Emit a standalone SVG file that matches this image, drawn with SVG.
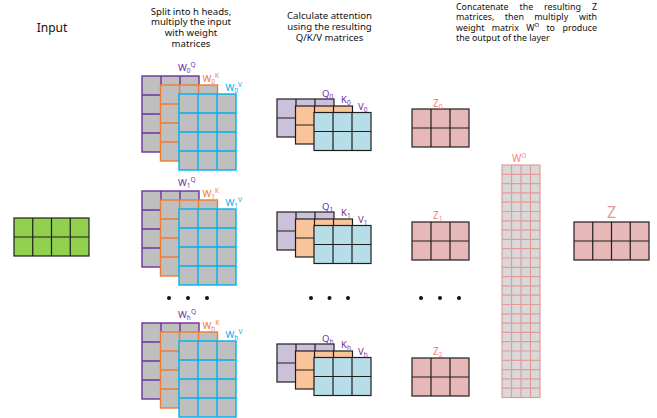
<svg xmlns="http://www.w3.org/2000/svg" xmlns:xlink="http://www.w3.org/1999/xlink" width="657" height="418" viewBox="0 0 657 418">
<style>
text{font-family:"Noto Sans","Open Sans",sans-serif;}
.hd{font-size:9.6px;fill:#111;}
.cc{font-size:8.9px;fill:#111;}
.in{font-size:12px;fill:#111;}
.wl{font-size:9.5px;}
.sb{font-size:6.5px;}
.pq{fill:#7030a0;}
.po{fill:#ed7d31;}
.pb{fill:#00b0f0;}
.pz{fill:#ff7c80;font-size:10px;}
.mw{stroke-width:1.4;}
.mk{stroke:#1e1e1e;stroke-width:1.2;}
.dot{fill:#111;}
</style>
<defs>
<g id="g34"><rect width="57" height="76"/><path d="M19 0V76M38 0V76M0 19H57M0 38H57M0 57H57"/></g>
<g id="g32"><rect width="57" height="38"/><path d="M19 0V38M38 0V38M0 19H57"/></g>
<g id="g42"><rect width="75" height="38"/><path d="M18.75 0V38M37.5 0V38M56.25 0V38M0 19H75"/></g>
</defs>

<g id="headings">
<text class="in" x="52" y="32" text-anchor="middle">Input</text>
<text class="hd" text-anchor="middle"><tspan x="191" y="14.7">Split into h heads,</tspan><tspan x="191" y="25.3">multiply the input</tspan><tspan x="191" y="35.9">with weight</tspan><tspan x="191" y="46.5">matrices</tspan></text>
<text class="hd" text-anchor="middle"><tspan x="329.5" y="19.3">Calculate attention</tspan><tspan x="329.5" y="29.9">using the resulting</tspan><tspan x="329.5" y="40.5">Q/K/V matrices</tspan></text>
<text class="cc"><tspan x="456" y="9.5" word-spacing="8.6">Concatenate the resulting</tspan><tspan x="597" y="9.5" text-anchor="end">Z</tspan><tspan x="456" y="20" word-spacing="8.1">matrices, then multiply</tspan><tspan x="597" y="20" text-anchor="end">with</tspan><tspan x="456" y="30.5" word-spacing="5">weight matrix W</tspan><tspan y="27" font-size="6">O</tspan><tspan y="30.5" word-spacing="5"> to</tspan><tspan x="597" y="30.5" text-anchor="end">produce</tspan><tspan x="456" y="41">the output of the layer</tspan></text>
</g>

<g id="input">
<use xlink:href="#g42" x="14" y="218" fill="#92d050" class="mk"/>
</g>

<g id="weights-0">
<use xlink:href="#g34" x="142" y="76" fill="#bfbfbf" stroke="#7030a0" class="mw"/>
<use xlink:href="#g34" x="160.5" y="85" fill="#bfbfbf" stroke="#ed7d31" class="mw"/>
<use xlink:href="#g34" x="179" y="94" fill="#bfbfbf" stroke="#00b0f0" class="mw"/>
<text class="wl pq" x="178" y="71">W<tspan class="sb" dy="2">0</tspan><tspan class="sb" dy="-6">Q</tspan></text>
<text class="wl po" x="202.5" y="81.5">W<tspan class="sb" dy="2">0</tspan><tspan class="sb" dy="-6">K</tspan></text>
<text class="wl pb" x="225.5" y="91">W<tspan class="sb" dy="2">0</tspan><tspan class="sb" dy="-6">V</tspan></text>
</g>
<g id="weights-1">
<use xlink:href="#g34" x="142" y="191" fill="#bfbfbf" stroke="#7030a0" class="mw"/>
<use xlink:href="#g34" x="160.5" y="200" fill="#bfbfbf" stroke="#ed7d31" class="mw"/>
<use xlink:href="#g34" x="179" y="209" fill="#bfbfbf" stroke="#00b0f0" class="mw"/>
<text class="wl pq" x="178" y="186">W<tspan class="sb" dy="2">1</tspan><tspan class="sb" dy="-6">Q</tspan></text>
<text class="wl po" x="202.5" y="196.5">W<tspan class="sb" dy="2">1</tspan><tspan class="sb" dy="-6">K</tspan></text>
<text class="wl pb" x="225.5" y="206">W<tspan class="sb" dy="2">1</tspan><tspan class="sb" dy="-6">V</tspan></text>
</g>
<g id="weights-h">
<use xlink:href="#g34" x="142" y="323" fill="#bfbfbf" stroke="#7030a0" class="mw"/>
<use xlink:href="#g34" x="160.5" y="332" fill="#bfbfbf" stroke="#ed7d31" class="mw"/>
<use xlink:href="#g34" x="179" y="341" fill="#bfbfbf" stroke="#00b0f0" class="mw"/>
<text class="wl pq" x="178" y="318">W<tspan class="sb" dy="2">h</tspan><tspan class="sb" dy="-6">Q</tspan></text>
<text class="wl po" x="202.5" y="328.5">W<tspan class="sb" dy="2">h</tspan><tspan class="sb" dy="-6">K</tspan></text>
<text class="wl pb" x="225.5" y="338">W<tspan class="sb" dy="2">h</tspan><tspan class="sb" dy="-6">V</tspan></text>
</g>

<g id="qkv-0">
<use xlink:href="#g32" x="277" y="99" fill="#ccc1da" class="mk"/>
<use xlink:href="#g32" x="295.5" y="106" fill="#fac49b" class="mk"/>
<use xlink:href="#g32" x="314" y="112.5" fill="#b7dde8" class="mk"/>
<text class="wl pq" x="322" y="96.5">Q<tspan class="sb" dy="2">0</tspan></text>
<text class="wl pq" x="341" y="103">K<tspan class="sb" dy="2">0</tspan></text>
<text class="wl pq" x="358" y="109.5">V<tspan class="sb" dy="2">0</tspan></text>
</g>
<g id="qkv-1">
<use xlink:href="#g32" x="277" y="212" fill="#ccc1da" class="mk"/>
<use xlink:href="#g32" x="295.5" y="219" fill="#fac49b" class="mk"/>
<use xlink:href="#g32" x="314" y="225.5" fill="#b7dde8" class="mk"/>
<text class="wl pq" x="322" y="209.5">Q<tspan class="sb" dy="2">1</tspan></text>
<text class="wl pq" x="341" y="216">K<tspan class="sb" dy="2">1</tspan></text>
<text class="wl pq" x="358" y="222.5">V<tspan class="sb" dy="2">1</tspan></text>
</g>
<g id="qkv-h">
<use xlink:href="#g32" x="277" y="344" fill="#ccc1da" class="mk"/>
<use xlink:href="#g32" x="295.5" y="351" fill="#fac49b" class="mk"/>
<use xlink:href="#g32" x="314" y="357.5" fill="#b7dde8" class="mk"/>
<text class="wl pq" x="322" y="341.5">Q<tspan class="sb" dy="2">h</tspan></text>
<text class="wl pq" x="341" y="348">K<tspan class="sb" dy="2">h</tspan></text>
<text class="wl pq" x="358" y="354.5">V<tspan class="sb" dy="2">h</tspan></text>
</g>

<g id="z-0">
<use xlink:href="#g32" x="412" y="109" fill="#e6b8b7" class="mk"/>
<text class="pz" x="433" y="106.5">Z<tspan class="sb" dy="2">0</tspan></text>
</g>
<g id="z-1">
<use xlink:href="#g32" x="412" y="222" fill="#e6b8b7" class="mk"/>
<text class="pz" x="433" y="219">Z<tspan class="sb" dy="2">1</tspan></text>
</g>
<g id="z-2">
<use xlink:href="#g32" x="412" y="358" fill="#e6b8b7" class="mk"/>
<text class="pz" x="433" y="355">Z<tspan class="sb" dy="2">2</tspan></text>
</g>

<g id="wo">
<rect x="502" y="165" width="38" height="232.5" fill="#d9d9d9" stroke="#e59a9a" stroke-width="1.2"/>
<path d="M511.5 165V397.5M521 165V397.5M530.5 165V397.5M502 174.3H540M502 183.6H540M502 192.9H540M502 202.2H540M502 211.5H540M502 220.8H540M502 230.1H540M502 239.4H540M502 248.7H540M502 258H540M502 267.3H540M502 276.6H540M502 285.9H540M502 295.2H540M502 304.5H540M502 313.8H540M502 323.1H540M502 332.4H540M502 341.7H540M502 351H540M502 360.3H540M502 369.6H540M502 378.9H540M502 388.2H540" stroke="#e59a9a" stroke-width="1.2" fill="none"/>
<text class="pz" x="512" y="161.5">W<tspan class="sb" dy="-3.5">O</tspan></text>
</g>

<g id="z-out">
<use xlink:href="#g42" x="574" y="222" fill="#e6b8b7" class="mk"/>
<text x="611.5" y="218" text-anchor="middle" style="font-size:16px;fill:#e59a9a">Z</text>
</g>

<g id="ellipses">
<circle class="dot" cx="169" cy="298" r="2"/><circle class="dot" cx="188" cy="298" r="2"/><circle class="dot" cx="207" cy="298" r="2"/>
<circle class="dot" cx="311" cy="298" r="2"/><circle class="dot" cx="329.5" cy="298" r="2"/><circle class="dot" cx="348" cy="298" r="2"/>
<circle class="dot" cx="421" cy="298" r="2"/><circle class="dot" cx="440" cy="298" r="2"/><circle class="dot" cx="459" cy="298" r="2"/>
</g>
<g id="connectors"/>
</svg>
